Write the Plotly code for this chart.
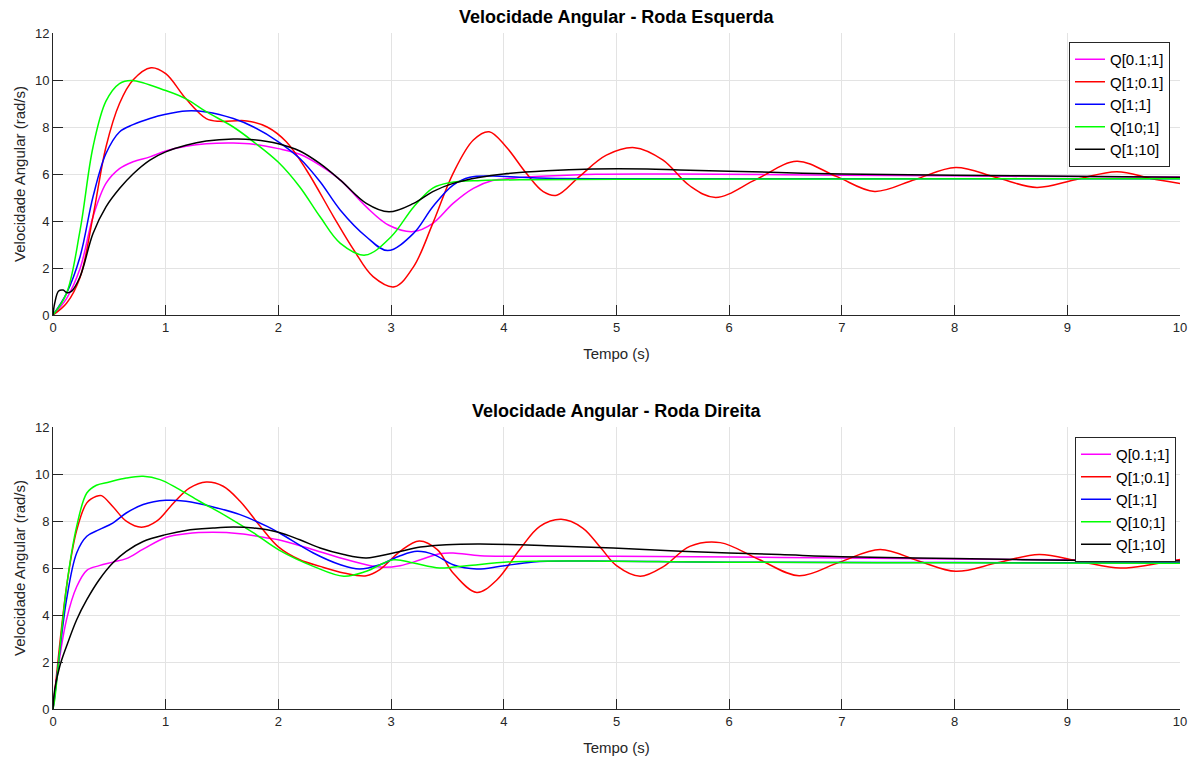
import plotly.graph_objects as go

# ---------------- data: left wheel (Roda Esquerda) ----------------
labels = ["Q[0.1;1]", "Q[1;0.1]", "Q[1;1]", "Q[10;1]", "Q[1;10]"]
colors = ["#FF00FF", "#FF0000", "#0000FF", "#00FF00", "#000000"]

mag_L_t = [0, 0.12, 0.24, 0.355, 0.47, 0.59, 0.71, 0.86, 1.0, 1.18, 1.36, 1.6, 1.78, 2.0, 2.19, 2.37, 2.55, 2.78,
           2.98, 3.2, 3.37, 3.55, 3.73, 3.9, 4.08, 4.38, 4.82, 5.5, 7, 8.5, 10]
mag_L_v = [0, 0.7, 1.98, 4.18, 5.6, 6.23, 6.52, 6.73, 6.98, 7.18, 7.29, 7.32, 7.27, 7.08, 6.84, 6.37, 5.74, 4.6,
           3.82, 3.55, 3.9, 4.75, 5.39, 5.72, 5.82, 5.91, 5.99, 6.0, 5.95, 5.9, 5.87]

red_L_t = [0, 0.12, 0.24, 0.355, 0.47, 0.59, 0.71, 0.87, 1.0, 1.18, 1.36, 1.48, 1.72, 1.9, 2.07, 2.25, 2.49, 2.67,
           2.84, 3.03, 3.2, 3.37, 3.55, 3.73, 3.87, 4.02, 4.2, 4.35, 4.47, 4.67, 4.91, 5.16, 5.41, 5.65, 5.88, 6.24,
           6.6, 6.95, 7.29, 7.65, 8.01, 8.37, 8.73, 9.08, 9.44, 9.75, 10]
red_L_v = [0, 0.5, 1.6, 4.2, 7.15, 9.0, 10.0, 10.52, 10.27, 9.2, 8.36, 8.24, 8.26, 8.0, 7.37, 6.16, 4.18, 2.76,
           1.63, 1.2, 2.06, 3.9, 6.03, 7.45, 7.8, 7.16, 6.03, 5.25, 5.1, 5.89, 6.8, 7.12, 6.6, 5.5, 5.0, 5.77,
           6.54, 5.9, 5.26, 5.77, 6.28, 5.85, 5.43, 5.77, 6.1, 5.8, 5.6]

blu_L_t = [0, 0.12, 0.24, 0.355, 0.47, 0.59, 0.71, 0.86, 1.0, 1.18, 1.36, 1.6, 1.78, 2.0, 2.19, 2.37, 2.55, 2.78,
           2.97, 3.2, 3.37, 3.55, 3.7, 3.9, 4.14, 4.38, 5, 6, 8, 10]
blu_L_v = [0, 0.92, 2.48, 5.03, 6.87, 7.79, 8.1, 8.36, 8.54, 8.68, 8.64, 8.36, 8.0, 7.37, 6.66, 5.67, 4.46, 3.33,
           2.74, 3.48, 4.61, 5.53, 5.86, 5.91, 5.86, 5.82, 5.8, 5.8, 5.8, 5.8]

grn_L_t = [0, 0.12, 0.24, 0.355, 0.47, 0.59, 0.70, 1.0, 1.18, 1.36, 1.6, 1.78, 2.0, 2.19, 2.37, 2.55, 2.77, 3.0,
           3.2, 3.37, 3.52, 3.8, 4.2, 5, 7, 10]
grn_L_v = [0, 0.92, 3.6, 7.15, 9.1, 9.85, 9.98, 9.55, 9.2, 8.65, 8.0, 7.37, 6.5, 5.45, 4.18, 3.05, 2.55, 3.33,
           4.6, 5.4, 5.63, 5.72, 5.76, 5.78, 5.79, 5.8]

blk_L_t = [0, 0.015, 0.05, 0.09, 0.12, 0.16, 0.24, 0.355, 0.47, 0.59, 0.71, 0.86, 1.0, 1.18, 1.36, 1.6, 1.78, 2.0,
           2.19, 2.37, 2.55, 2.78, 2.98, 3.2, 3.37, 3.55, 3.79, 4.0, 4.38, 4.79, 5.27, 5.56, 6.0, 7.0, 8.0, 9.0, 10]
blk_L_v = [0, 0.5, 1.02, 1.06, 0.96, 0.99, 1.63, 3.47, 4.6, 5.38, 6.0, 6.59, 6.94, 7.22, 7.4, 7.49, 7.46, 7.29,
           6.98, 6.44, 5.74, 4.75, 4.39, 4.75, 5.25, 5.6, 5.86, 6.0, 6.14, 6.21, 6.21, 6.17, 6.12, 6.0, 5.95, 5.9, 5.86]

# ---------------- data: right wheel (Roda Direita) ----------------
mag_R_t = [0, 0.015, 0.12, 0.21, 0.3, 0.41, 0.53, 0.65, 0.8, 1.0, 1.18, 1.42, 1.66, 1.9, 2.0, 2.31, 2.61, 2.9,
           3.08, 3.26, 3.43, 3.55, 3.79, 4.09, 5.0, 6.45, 8, 10]
mag_R_v = [0, 0.68, 3.8, 5.2, 5.9, 6.1, 6.25, 6.4, 6.8, 7.3, 7.46, 7.52, 7.46, 7.28, 7.2, 6.78, 6.35, 6.04,
           6.1, 6.35, 6.61, 6.64, 6.52, 6.5, 6.5, 6.45, 6.38, 6.33]

red_R_t = [0, 0.015, 0.12, 0.21, 0.3, 0.385, 0.43, 0.53, 0.65, 0.785, 0.92, 1.07, 1.21, 1.36, 1.51, 1.66, 1.84,
           2.0, 2.19, 2.37, 2.58, 2.78, 2.9, 3.08, 3.25, 3.41, 3.55, 3.76, 3.94, 4.14, 4.32, 4.51, 4.7, 4.86, 5.0,
           5.21, 5.42, 5.65, 5.92, 6.27, 6.62, 6.98, 7.34, 7.68, 8.01, 8.38, 8.75, 9.11, 9.47, 9.75, 10]
red_R_v = [0, 0.68, 5.2, 7.6, 8.77, 9.05, 9.08, 8.62, 7.99, 7.73, 7.99, 8.77, 9.4, 9.66, 9.48, 8.84, 7.77,
           6.9, 6.35, 6.07, 5.79, 5.67, 5.93, 6.71, 7.15, 6.78, 5.79, 4.96, 5.5, 6.78, 7.77, 8.07, 7.7, 6.86, 6.1,
           5.65, 6.07, 6.92, 7.08, 6.35, 5.67, 6.25, 6.79, 6.3, 5.86, 6.22, 6.57, 6.28, 6.0, 6.15, 6.36]

blu_R_t = [0, 0.015, 0.12, 0.21, 0.3, 0.41, 0.53, 0.65, 0.8, 1.0, 1.18, 1.42, 1.66, 1.9, 2.01, 2.31, 2.55, 2.72,
           2.9, 3.08, 3.23, 3.38, 3.55, 3.76, 3.97, 4.26, 4.68, 6, 8, 10]
blu_R_v = [0, 0.54, 4.65, 6.64, 7.35, 7.63, 7.91, 8.34, 8.7, 8.88, 8.84, 8.6, 8.27, 7.77, 7.49, 6.64, 6.14, 5.96,
           6.14, 6.52, 6.71, 6.57, 6.14, 5.96, 6.07, 6.26, 6.3, 6.25, 6.23, 6.22]

grn_R_t = [0, 0.015, 0.12, 0.21, 0.3, 0.385, 0.5, 0.65, 0.8, 0.95, 1.1, 1.3, 1.54, 1.78, 2.01, 2.31, 2.58, 2.78,
           3.02, 3.2, 3.43, 3.67, 4.09, 4.68, 6, 8, 10]
grn_R_v = [0, 0.4, 5.2, 7.77, 9.19, 9.52, 9.66, 9.83, 9.9, 9.76, 9.4, 8.84, 8.2, 7.49, 6.75, 6.07, 5.65, 5.86,
           6.35, 6.21, 6.0, 6.1, 6.27, 6.3, 6.25, 6.22, 6.2]

blk_R_t = [0, 0.015, 0.06, 0.12, 0.21, 0.3, 0.41, 0.53, 0.65, 0.8, 1.0, 1.18, 1.42, 1.6, 1.78, 2.0, 2.19, 2.37,
           2.58, 2.78, 3.02, 3.26, 3.49, 3.79, 4.38, 4.97, 5.57, 6.45, 7.0, 8.0, 9.0, 10]
blk_R_v = [0, 0.82, 1.82, 2.67, 3.8, 4.65, 5.5, 6.21, 6.71, 7.13, 7.42, 7.6, 7.7, 7.74, 7.7, 7.52, 7.2, 6.85,
           6.57, 6.43, 6.64, 6.89, 6.99, 7.02, 6.95, 6.85, 6.71, 6.57, 6.48, 6.4, 6.33, 6.3]

x_ticks = list(range(0, 11))
y_ticks = [0, 2, 4, 6, 8, 10, 12]
titles = ["Velocidade Angular - Roda Esquerda", "Velocidade Angular - Roda Direita"]
x_title = "Tempo (s)"
y_title = "Velocidade Angular (rad/s)"

left = [(mag_L_t, mag_L_v), (red_L_t, red_L_v), (blu_L_t, blu_L_v), (grn_L_t, grn_L_v), (blk_L_t, blk_L_v)]
right = [(mag_R_t, mag_R_v), (red_R_t, red_R_v), (blu_R_t, blu_R_v), (grn_R_t, grn_R_v), (blk_R_t, blk_R_v)]

FONT = "Arial, Liberation Sans, Helvetica, sans-serif"
AX = "#262626"

fig = go.Figure()
for i, (t, v) in enumerate(left):
    fig.add_trace(go.Scatter(x=t, y=v, mode="lines", name=labels[i], xaxis="x", yaxis="y",
                             line=dict(color=colors[i], width=1.5, shape="spline", smoothing=1.0),
                             legend="legend"))
for i, (t, v) in enumerate(right):
    fig.add_trace(go.Scatter(x=t, y=v, mode="lines", name=labels[i], xaxis="x2", yaxis="y2",
                             line=dict(color=colors[i], width=1.5, shape="spline", smoothing=1.0),
                             legend="legend2"))

W, H = 1192, 760
L, R = 53, W - 1180


def py(p):
    """page pixel row -> paper fraction"""
    return (H - p) / H


def px(p):
    """page pixel column -> paper fraction"""
    return (p - L) / (W - L - R)


xcommon = dict(range=[0, 10], tickvals=x_ticks, ticks="inside", ticklen=10, tickcolor=AX, tickwidth=1,
               showline=True, linecolor=AX, linewidth=1, showgrid=True, gridcolor="#e3e3e3", gridwidth=1,
               zeroline=False, tickfont=dict(family=FONT, size=13, color=AX), automargin=False,
               ticklabeloverflow="allow",
               title=dict(text=x_title, font=dict(family=FONT, size=15, color=AX), standoff=14),
               fixedrange=True)
ycommon = dict(range=[0, 12], tickvals=y_ticks, ticks="inside", ticklen=10, tickcolor=AX, tickwidth=1,
               showline=True, linecolor=AX, linewidth=1, showgrid=True, gridcolor="#e3e3e3", gridwidth=1,
               zeroline=False, tickfont=dict(family=FONT, size=13, color=AX), automargin=False,
               title=dict(text=y_title, font=dict(family=FONT, size=15, color=AX), standoff=5),
               fixedrange=True)

legcommon = dict(bgcolor="white", bordercolor=AX, borderwidth=1, font=dict(family=FONT, size=15, color="#000000"),
                 xanchor="right", yanchor="top", itemwidth=30, tracegroupgap=0)

fig.update_layout(
    width=W, height=H, paper_bgcolor="white", plot_bgcolor="white",
    margin=dict(l=L, r=R, t=0, b=0, autoexpand=False),
    xaxis=dict(domain=[0, 1], anchor="y", **xcommon),
    yaxis=dict(domain=[py(315), py(33)], anchor="x", **ycommon),
    xaxis2=dict(domain=[0, 1], anchor="y2", **xcommon),
    yaxis2=dict(domain=[py(709), py(427)], anchor="x2", **ycommon),
    legend=dict(x=px(1170), y=py(42), **legcommon),
    legend2=dict(x=px(1176), y=py(437), **legcommon),
    annotations=[
        dict(text="<b>%s</b>" % titles[0], xref="paper", yref="paper", x=0.5, y=py(17), xanchor="center",
             yanchor="middle", showarrow=False, font=dict(family=FONT, size=18, color="#000000")),
        dict(text="<b>%s</b>" % titles[1], xref="paper", yref="paper", x=0.5, y=py(411), xanchor="center",
             yanchor="middle", showarrow=False, font=dict(family=FONT, size=18, color="#000000")),
    ],
)

# remove the browser's default 8px page margin so the 1192x760 figure fills the window exactly
fig.write_html("out.html", config={"displayModeBar": False, "staticPlot": True},
               post_script="document.body.style.margin='0px';document.body.style.overflow='hidden';")
